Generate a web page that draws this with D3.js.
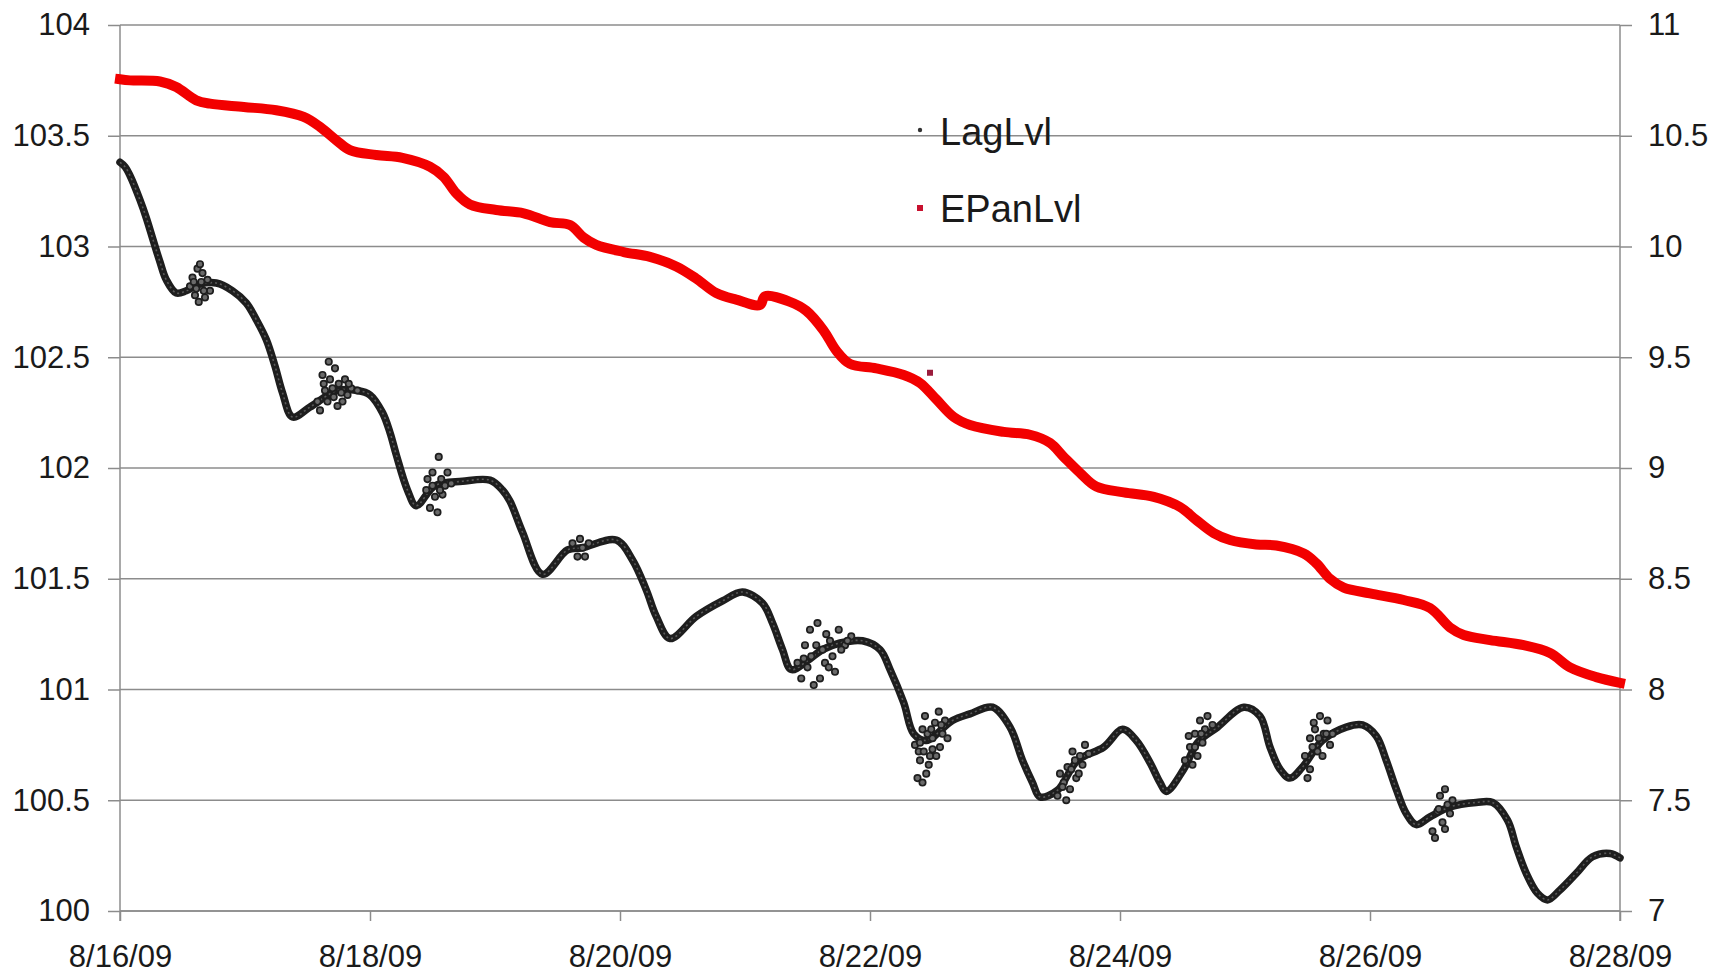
<!DOCTYPE html>
<html><head><meta charset="utf-8">
<script src="https://cdn.jsdelivr.net/npm/d3@7"></script>
<style>body{margin:0;background:#fff}svg{display:block}</style>
</head><body>
<svg id="chart" width="1726" height="976"></svg>
<script>
// ---- data ----
const startDate = "8/16/09";
const dateTicks = ["8/16/09","8/18/09","8/20/09","8/22/09","8/24/09","8/26/09","8/28/09"];
const leftTicks = [100,100.5,101,101.5,102,102.5,103,103.5,104];
const rightTicks = [7,7.5,8,8.5,9,9.5,10,10.5,11];
const seriesNames = ["LagLvl","EPanLvl"];

// LagLvl (left axis): days since 8/16/09 00:00, level
const lagDays = [0,0.04,0.08,0.16,0.21,0.27,0.32,0.37,0.45,0.53,0.64,0.77,0.9,1.01,1.09,1.17,1.24,1.3,1.38,1.52,1.74,1.9,2.0,2.1,2.16,2.21,2.3,2.37,2.52,2.74,2.96,3.06,3.12,3.22,3.38,3.58,3.7,3.97,4.1,4.21,4.29,4.4,4.61,4.82,4.98,5.14,5.22,5.3,5.37,5.5,5.62,5.76,5.94,6.08,6.16,6.27,6.35,6.45,6.66,6.8,6.98,7.12,7.22,7.3,7.36,7.5,7.66,7.87,8.02,8.13,8.24,8.32,8.37,8.51,8.62,8.78,8.99,9.12,9.2,9.28,9.36,9.46,9.62,9.81,9.94,10.05,10.13,10.21,10.29,10.37,10.48,10.64,10.85,10.98,11.1,11.17,11.25,11.34,11.42,11.52,11.65,11.78,11.92,12.0];
const lagValues = [103.38,103.36,103.32,103.21,103.13,103.02,102.93,102.85,102.79,102.80,102.83,102.835,102.80,102.745,102.67,102.58,102.46,102.34,102.23,102.275,102.35,102.35,102.33,102.25,102.16,102.06,101.90,101.83,101.92,101.94,101.945,101.90,101.85,101.71,101.52,101.63,101.64,101.675,101.585,101.45,101.33,101.23,101.33,101.40,101.44,101.39,101.30,101.18,101.09,101.13,101.18,101.21,101.22,101.18,101.09,100.94,100.80,100.77,100.86,100.89,100.92,100.83,100.68,100.58,100.515,100.545,100.68,100.74,100.82,100.77,100.67,100.58,100.54,100.64,100.76,100.83,100.92,100.88,100.74,100.64,100.60,100.65,100.77,100.83,100.84,100.79,100.68,100.55,100.44,100.39,100.425,100.47,100.49,100.49,100.41,100.29,100.17,100.08,100.05,100.095,100.17,100.245,100.26,100.24];

// LagLvl noisy readings (scatter clouds)
const lagScatterDays = [0.58,0.62,0.64,0.66,0.6,0.63,0.68,0.7,0.56,0.72,0.65,0.61,0.67,0.59,
  1.62,1.67,1.72,1.66,1.6,1.75,1.8,1.7,1.78,1.85,1.64,1.82,1.58,1.74,1.9,1.68,1.77,1.63,1.83,1.71,
  2.45,2.5,2.55,2.57,2.48,2.52,2.6,2.62,2.46,2.54,2.58,2.65,2.5,2.56,
  3.62,3.68,3.72,3.66,3.75,3.7,
  5.42,5.48,5.52,5.58,5.6,5.55,5.5,5.65,5.7,5.75,5.8,5.45,5.62,5.68,5.85,5.53,5.72,5.57,5.64,5.77,5.47,5.67,5.82,
  6.36,6.4,6.42,6.45,6.48,6.5,6.52,6.55,6.44,6.58,6.38,6.47,6.6,6.5,6.62,6.4,6.56,6.42,6.46,6.53,6.39,6.57,6.43,6.49,
  7.5,7.55,7.58,7.62,7.65,7.6,7.68,7.72,7.52,7.7,7.57,7.64,7.75,7.54,7.61,7.67,
  8.52,8.56,8.6,8.64,8.68,8.62,8.7,8.58,8.66,8.74,8.55,8.6,8.65,
  9.48,9.52,9.55,9.6,9.63,9.5,9.52,9.58,9.66,9.68,9.56,9.62,9.7,9.54,9.59,9.65,
  10.5,10.54,10.56,10.6,10.62,10.58,10.64,10.52,10.66,10.6,10.55];
const lagScatterValues = [102.86,102.9,102.92,102.88,102.78,102.75,102.77,102.85,102.82,102.8,102.84,102.81,102.8,102.84,
  102.42,102.48,102.45,102.3,102.26,102.38,102.4,102.36,102.3,102.36,102.35,102.33,102.3,102.28,102.35,102.4,102.34,102.38,102.38,102.32,
  101.9,101.98,102.05,101.95,101.82,101.87,101.92,101.98,101.95,101.8,101.88,101.93,101.92,101.9,
  101.66,101.68,101.6,101.6,101.66,101.64,
  101.12,101.2,101.27,101.3,101.05,101.02,101.1,101.25,101.15,101.27,101.2,101.05,101.18,101.22,101.24,101.15,101.08,101.2,101.12,101.18,101.14,101.1,101.22,
  100.75,100.68,100.82,100.62,100.7,100.78,100.85,100.9,100.88,100.8,100.6,100.66,100.86,100.73,100.78,100.76,100.74,100.58,100.8,100.7,100.72,100.84,100.72,100.82,
  100.52,100.58,100.65,100.72,100.6,100.55,100.7,100.75,100.62,100.66,100.5,100.68,100.71,100.56,100.64,100.62,
  100.68,100.74,100.8,100.86,100.82,100.7,100.88,100.66,100.76,100.84,100.79,100.74,100.8,
  100.7,100.78,100.85,100.88,100.8,100.6,100.64,100.72,100.86,100.75,100.82,100.7,100.8,100.74,100.78,100.8,
  100.36,100.45,100.52,100.55,100.48,100.4,100.44,100.33,100.5,100.37,100.46];

// EPanLvl (right axis)
const epanDays = [0,0.08,0.32,0.45,0.61,0.72,0.99,1.25,1.47,1.6,1.73,1.84,2.05,2.26,2.48,2.59,2.69,2.8,3.01,3.23,3.44,3.6,3.71,3.81,4.03,4.24,4.45,4.61,4.77,4.93,5.12,5.16,5.36,5.49,5.63,5.73,5.84,6.05,6.27,6.4,6.53,6.67,6.8,7.07,7.28,7.44,7.55,7.68,7.81,8.03,8.27,8.48,8.61,8.75,8.88,9.09,9.25,9.47,9.57,9.68,9.79,10.0,10.27,10.48,10.64,10.75,10.96,11.23,11.44,11.6,11.81,12.0];
const epanValues = [10.755,10.75,10.745,10.72,10.66,10.645,10.63,10.615,10.585,10.54,10.48,10.435,10.413,10.40,10.36,10.314,10.24,10.19,10.165,10.15,10.11,10.097,10.04,10.007,9.975,9.953,9.91,9.855,9.79,9.76,9.736,9.775,9.75,9.71,9.62,9.53,9.47,9.45,9.42,9.384,9.31,9.23,9.194,9.163,9.15,9.113,9.05,8.978,8.916,8.89,8.87,8.824,8.765,8.706,8.675,8.655,8.65,8.614,8.57,8.50,8.46,8.434,8.404,8.368,8.28,8.246,8.223,8.20,8.165,8.10,8.056,8.03];
const epanOutlierDays = [6.48];
const epanOutlierValues = [9.43];

// ---- chart ----
const W = 1726, H = 976;
const m = {left:120, right:106, top:25, bottom:65};
const parse = d3.timeParse("%m/%d/%y");
const t0 = parse(startDate);
const toDate = d => new Date(t0.getTime() + d * 864e5);
const tickDates = dateTicks.map(parse);

const x = d3.scaleTime().domain([tickDates[0], tickDates[tickDates.length-1]]).range([m.left, W - m.right]);
const yL = d3.scaleLinear().domain([100,104]).range([H - m.bottom, m.top]);
const yR = d3.scaleLinear().domain([7,11]).range([H - m.bottom, m.top]);

const svg = d3.select("#chart");
const font = "'Liberation Sans', Arial, Helvetica, sans-serif";
const gridCol = "#8c8c8c", txtCol = "#1a1a1a";

// gridlines
svg.append("g").selectAll("line").data(leftTicks).join("line")
  .attr("x1", m.left).attr("x2", W - m.right)
  .attr("y1", d => yL(d)).attr("y2", d => yL(d))
  .attr("stroke", gridCol).attr("stroke-width", 1.5);

// axes
const axL = svg.append("g").attr("transform", `translate(${m.left},0)`)
  .call(d3.axisLeft(yL).tickValues(leftTicks).tickSize(12).tickPadding(18).tickFormat(d => String(d)));
const axR = svg.append("g").attr("transform", `translate(${W - m.right},0)`)
  .call(d3.axisRight(yR).tickValues(rightTicks).tickSize(12).tickPadding(16).tickFormat(d => String(d)));
const axB = svg.append("g").attr("transform", `translate(0,${H - m.bottom})`)
  .call(d3.axisBottom(x).tickValues(tickDates).tickSize(10).tickPadding(24).tickFormat(d3.timeFormat("%-m/%d/%y")));

[axL, axR, axB].forEach(a => {
  a.select(".domain").attr("stroke", gridCol).attr("stroke-width", 1.5);
  a.selectAll(".tick line").attr("stroke", gridCol).attr("stroke-width", 1.5);
  a.selectAll(".tick text").attr("fill", txtCol).style("font-family", font).style("font-size", "31px");
});
axL.select(".domain").attr("d", `M0,${yL(104)}V${yL(100)+10}`);
axR.select(".domain").attr("d", `M0,${yR(11)}V${yR(7)+10}`);
axB.select(".domain").attr("d", `M${m.left},0H${W - m.right}`);

const curve = d3.curveCatmullRom.alpha(0.5);

// EPanLvl
const lineR = d3.line().x(d => x(toDate(d[0]))).y(d => yR(d[1])).curve(curve);
const epanData = epanDays.map((d, i) => [d, epanValues[i]]);
svg.append("path").datum(epanData).attr("d", lineR)
  .attr("fill", "none").attr("stroke", "#f20000").attr("stroke-width", 10)
  .attr("stroke-linejoin", "round").attr("stroke-linecap", "square");
svg.append("g").selectAll("rect").data(epanOutlierDays.map((d,i)=>[d, epanOutlierValues[i]])).join("rect")
  .attr("x", d => x(toDate(d[0])) - 3).attr("y", d => yR(d[1]) - 3)
  .attr("width", 6).attr("height", 6).attr("fill", "#9b1c3c");

// LagLvl
const lineL = d3.line().x(d => x(toDate(d[0]))).y(d => yL(d[1])).curve(curve);
const lagData = lagDays.map((d, i) => [d, lagValues[i]]);
svg.append("path").datum(lagData).attr("d", lineL)
  .attr("fill", "none").attr("stroke", "#1e1e1e").attr("stroke-width", 7.5)
  .attr("stroke-linejoin", "round").attr("stroke-linecap", "round");
svg.append("path").datum(lagData).attr("d", lineL)
  .attr("fill", "none").attr("stroke", "#5a5a5a").attr("stroke-width", 1.6)
  .attr("stroke-dasharray", "2,3");
svg.append("g").selectAll("circle").data(lagScatterDays.map((d,i)=>[d, lagScatterValues[i]])).join("circle")
  .attr("cx", d => x(toDate(d[0]))).attr("cy", d => yL(d[1])).attr("r", 3.2)
  .attr("fill", "#6a6a6a").attr("stroke", "#1e1e1e").attr("stroke-width", 1.7);

// legend
const lg = svg.append("g").style("font-family", font).style("font-size", "38px").attr("fill", txtCol);
lg.append("circle").attr("cx", 920).attr("cy", 130).attr("r", 2.2).attr("fill", "#333");
lg.append("text").attr("x", 940).attr("y", 145).text(seriesNames[0]);
lg.append("rect").attr("x", 917).attr("y", 205).attr("width", 6).attr("height", 6).attr("fill", "#c8102e");
lg.append("text").attr("x", 940).attr("y", 222).text(seriesNames[1]);
</script>
</body></html>
